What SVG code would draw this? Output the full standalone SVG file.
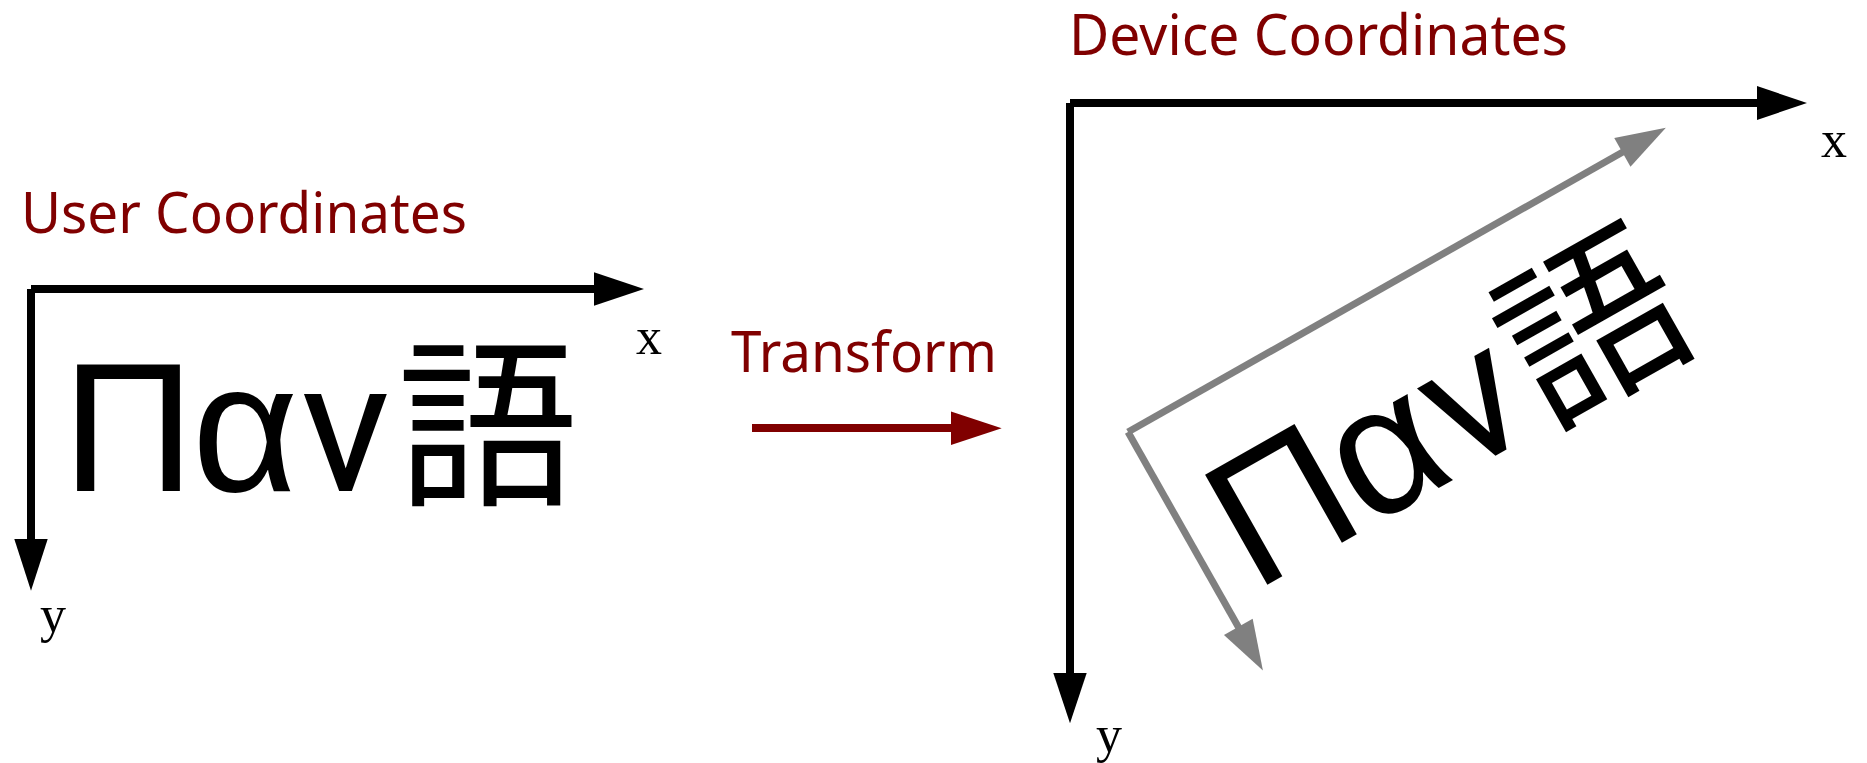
<svg xmlns="http://www.w3.org/2000/svg" width="1867" height="763" viewBox="0 0 1867 763">
<style>
.title{font-family:"Noto Sans","Open Sans",sans-serif;font-size:57px;fill:#800000}
.lbl{font-family:"Liberation Serif",serif;font-size:52px;fill:#000}
.big{font-family:"Liberation Sans",Arial,sans-serif;font-size:184px;fill:#000}
.nu{font-family:Roboto,"Open Sans",sans-serif}
.cjk{font-family:"Noto Sans CJK JP","Noto Sans CJK SC",sans-serif;font-size:181px}
.ax{stroke:#000;stroke-width:8;fill:none}
.gax{stroke:#808080;stroke-width:7;fill:none}
.hd{fill:#000}
.ghd{fill:#808080}
</style>
<rect width="1867" height="763" fill="#fff"/>
<g id="user-coordinates">
  <text class="title" x="21" y="233" textLength="446" lengthAdjust="spacingAndGlyphs">User Coordinates</text>
  <text class="big" y="490.7"><tspan x="62">Π</tspan><tspan x="192">α</tspan><tspan class="nu" x="301">ν</tspan><tspan class="cjk" x="397">語</tspan></text>
  <text class="lbl" x="636" y="354">x</text>
  <text class="lbl" x="40" y="632">y</text>
</g>
<g id="transform">
  <text class="title" x="731" y="372" textLength="266" lengthAdjust="spacingAndGlyphs">Transform</text>
</g>
<g id="device-coordinates">
  <text class="title" x="1069" y="55" textLength="499" lengthAdjust="spacingAndGlyphs">Device Coordinates</text>
  <text class="lbl" x="1821" y="157">x</text>
  <text class="lbl" x="1096" y="752">y</text>
  <g id="rotated-text" transform="translate(1128,432) rotate(-29.5) translate(-31,-289)">
    <text class="big" y="490.7"><tspan x="62">Π</tspan><tspan x="192">α</tspan><tspan class="nu" x="301">ν</tspan><tspan class="cjk" x="397">語</tspan></text>
  </g>
</g>
<g id="connectors">
  <line class="ax" x1="31" y1="289" x2="595" y2="289"/>
  <polygon class="hd" points="594,272.3 644,289 594,305.7"/>
  <line class="ax" x1="31" y1="289" x2="31" y2="540"/>
  <polygon class="hd" points="14.3,539 31,590.7 47.7,539"/>
  <line x1="752" y1="428" x2="952" y2="428" stroke="#800000" stroke-width="8"/>
  <polygon fill="#800000" points="951,411.5 1001.7,428.3 951,445"/>
  <line class="ax" x1="1070" y1="103" x2="1758" y2="103"/>
  <polygon class="hd" points="1757,86 1807,103 1757,120"/>
  <line class="ax" x1="1070" y1="103" x2="1070" y2="674"/>
  <polygon class="hd" points="1053.3,673 1070,723.3 1086.7,673"/>
  <g transform="translate(1128,432) rotate(-29.5)">
    <line class="gax" x1="0" y1="0" x2="569" y2="0"/>
    <polygon class="ghd" points="568,-16.5 618,0 568,16.5"/>
    <line class="gax" x1="0" y1="0" x2="0" y2="225"/>
    <polygon class="ghd" points="-16.5,224 0,274 16.5,224"/>
  </g>
</g>
</svg>
